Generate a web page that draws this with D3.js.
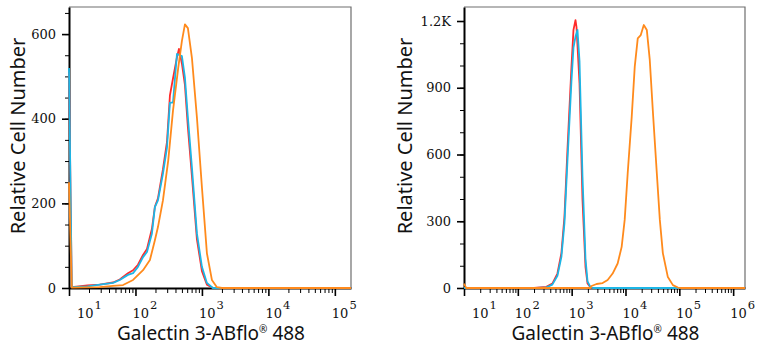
<!DOCTYPE html>
<html>
<head>
<meta charset="utf-8">
<script src="https://cdn.jsdelivr.net/npm/d3@7"></script>
<style>
  body { margin: 0; background: #fff; }
  svg { display: block; }
</style>
</head>
<body>
<script>
var width = 757;
var height = 350;

// left panel histograms: [intensity, count]
var leftRed = [[10,510],[11,2],[19,6],[29,8],[46,13],[58,20],[77,35],[92,42],[109,55],[130,78],[149,92],[177,140],[196,192],[218,212],[259,280],[298,345],[330,455],[367,495],[421,545],[451,565],[500,530],[555,480],[615,380],[707,265],[841,115],[1000,40],[1189,8],[1462,0],[175000,0]];
var leftCyan = [[10,520],[11,2],[19,4],[29,8],[46,12],[58,19],[77,31],[92,35],[109,50],[130,73],[149,85],[177,129],[196,191],[218,207],[259,270],[298,332],[330,438],[367,438],[421,553],[500,548],[555,497],[615,403],[707,285],[841,129],[1000,50],[1189,12],[1462,0],[175000,0]];
var leftOrange = [[10,250],[11,1],[29,2],[46,5],[65,7],[92,19],[130,42],[165,66],[196,113],[218,144],[259,207],[311,301],[367,419],[440,520],[500,584],[555,623],[615,614],[707,544],[841,403],[1000,238],[1189,82],[1413,19],[1682,2],[2000,0],[175000,0]];

// right panel histograms
var rightRed = [[10,0],[200,0],[339,5],[438,20],[544,65],[645,157],[734,319],[835,620],[991,993],[1081,1160],[1178,1204],[1230,1173],[1399,921],[1590,396],[1808,94],[1972,20],[2244,2],[2500,0],[1660000,0]];
var rightCyan = [[10,0],[220,0],[339,3],[438,15],[544,55],[645,140],[734,290],[835,570],[991,930],[1081,1080],[1178,1130],[1282,1160],[1399,1020],[1590,500],[1808,130],[1972,30],[2244,3],[2500,0],[1660000,0]];
var rightOrange = [[10,20],[11,0],[2240,0],[2340,9],[2900,18],[3757,22],[4660,36],[5770,65],[7150,110],[8490,185],[9660,306],[10990,516],[13060,770],[14860,995],[16900,1122],[19230,1137],[21880,1182],[24890,1160],[28250,1025],[32140,800],[38190,516],[43450,306],[49430,157],[61240,49],[76000,13],[94200,2],[110000,0],[1660000,0]];

var leftYTicks = [0,200,400,600];
var leftYLabels = ["0","200","400","600"];
var rightYTicks = [0,300,600,900,1200];
var rightYLabels = ["0","300","600","900","1.2K"];
var leftDecades = [1,2,3,4,5];
var rightDecades = [1,2,3,4,5,6];

var xTitle = "Galectin 3-ABflo";
var xTitleEnd = " 488";
var yTitle = "Relative Cell Number";

var colors = {red: "#ff2a2a", cyan: "#1cb6e6", orange: "#ff8a1c"};
var serif = "DejaVu Serif, serif";

var svg = d3.select("body")
  .append("svg")
  .attr("width", width)
  .attr("height", height);

function drawPanel(p) {
  var x = d3.scaleLog()
    .domain(p.xDomain)
    .range([p.left, p.right]);
  var y = d3.scaleLinear()
    .domain([0, p.yMax])
    .range([p.bottom, p.top]);

  var g = svg.append("g");

  // grey frame on top and right
  g.append("path")
    .attr("d", "M" + p.left + "," + p.top + "H" + p.right + "V" + p.bottom)
    .attr("fill", "none")
    .attr("stroke", "#6e6e6e")
    .attr("stroke-width", 1.2);

  // minor x ticks
  var minor = [];
  p.decades.forEach(function(k) {
    for (var m = 2; m <= 9; m++) {
      var v = m * Math.pow(10, k);
      if (v < p.xDomain[1]) minor.push(v);
    }
  });
  g.append("g")
    .attr("transform", "translate(0," + p.bottom + ")")
    .call(d3.axisBottom(x).tickValues(minor).tickSize(5).tickFormat(""))
    .call(function(s) { s.select(".domain").remove(); });

  var xAxis = g.append("g")
    .attr("transform", "translate(0," + p.bottom + ")")
    .call(d3.axisBottom(x)
      .tickValues(p.decades.map(function(k) { return Math.pow(10, k); }))
      .tickSize(8).tickSizeOuter(0).tickFormat(""));
  xAxis.select(".domain").attr("stroke-width", 2);
  xAxis.selectAll(".tick line").attr("stroke-width", 1.6);

  // minor y ticks
  var yMinor = d3.range(0, p.yMax, p.yMinorStep);
  g.append("g")
    .attr("transform", "translate(" + p.left + ",0)")
    .call(d3.axisLeft(y).tickValues(yMinor).tickSize(4).tickFormat(""))
    .call(function(s) { s.select(".domain").remove(); });

  var yAxis = g.append("g")
    .attr("transform", "translate(" + p.left + ",0)")
    .call(d3.axisLeft(y)
      .tickValues(p.yTicks)
      .tickSize(7).tickSizeOuter(0).tickPadding(6)
      .tickFormat(function(d, i) { return p.yLabels[i]; }));
  yAxis.select(".domain").attr("stroke-width", 2);
  yAxis.selectAll(".tick line").attr("stroke-width", 1.6);
  yAxis.selectAll(".tick text")
    .style("font-family", serif)
    .style("font-size", "13px")
    .attr("fill", "#111");

  // decade labels 10^k
  p.decades.forEach(function(k, i) {
    var tx = x(Math.pow(10, k)) - 3;
    if (i === 0) tx = x(Math.pow(10, k)) + 8;
    var t = g.append("text")
      .attr("x", tx)
      .attr("y", 318)
      .style("font-family", serif)
      .style("font-size", "13px")
      .attr("fill", "#111");
    t.append("tspan").text("10");
    t.append("tspan").attr("dx", 1).attr("dy", -9).style("font-size", "11.5px").text(k);
  });

  // histograms
  var line = d3.line()
    .x(function(d) { return x(d[0]); })
    .y(function(d) { return y(d[1]); });

  p.series.forEach(function(s) {
    g.append("path")
      .datum(s.data)
      .attr("d", line)
      .attr("fill", "none")
      .attr("stroke", s.color)
      .attr("stroke-width", 1.8)
      .attr("stroke-linejoin", "round");
  });

  // titles
  var xt = g.append("text")
    .attr("x", (p.left + p.right) / 2 + 1)
    .attr("y", 340)
    .attr("text-anchor", "middle")
    .style("font-family", "Noto Sans, sans-serif")
    .style("font-size", "19px")
    .attr("fill", "#111");
  xt.append("tspan").text(xTitle);
  xt.append("tspan").attr("dy", -7).style("font-size", "10px").text("®");
  xt.append("tspan").attr("dy", 7).text(xTitleEnd);

  g.append("text")
    .attr("transform", "translate(" + p.yTitleX + ",136) rotate(-90)")
    .attr("text-anchor", "middle")
    .style("font-family", "Noto Sans, sans-serif")
    .style("font-size", "20px")
    .attr("fill", "#111")
    .text(yTitle);
}

drawPanel({
  left: 69, right: 351, top: 7, bottom: 288,
  xDomain: [10, 175000], yMax: 664, yMinorStep: 50,
  yTicks: leftYTicks, yLabels: leftYLabels, decades: leftDecades,
  yTitleX: 25,
  series: [
    {data: leftRed, color: colors.red},
    {data: leftCyan, color: colors.cyan},
    {data: leftOrange, color: colors.orange}
  ]
});

drawPanel({
  left: 464, right: 745, top: 7, bottom: 288,
  xDomain: [10, 1660000], yMax: 1263, yMinorStep: 100,
  yTicks: rightYTicks, yLabels: rightYLabels, decades: rightDecades,
  yTitleX: 412,
  series: [
    {data: rightRed, color: colors.red},
    {data: rightCyan, color: colors.cyan},
    {data: rightOrange, color: colors.orange}
  ]
});
</script>
</body>
</html>
